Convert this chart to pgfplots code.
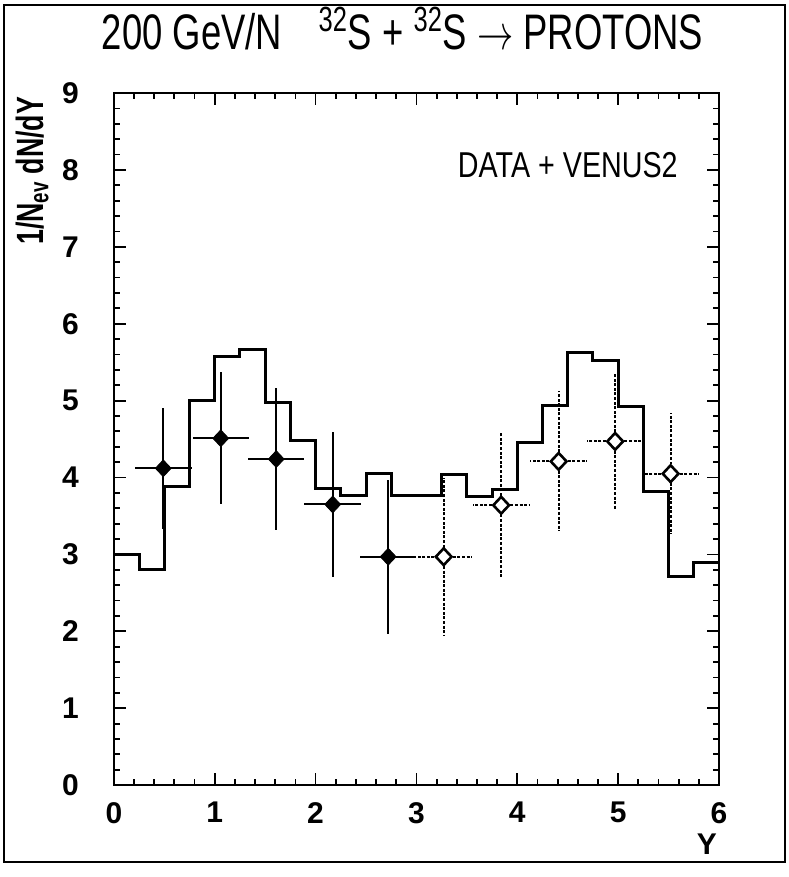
\documentclass[border=0pt]{standalone}
\usepackage{fontspec}
\setmainfont{Liberation Sans}
\usepackage{graphicx}
\usepackage{pgfplots}
\pgfplotsset{compat=1.18}

\pgfplotstableread{
x y
0.00 3.00
0.25 2.80
0.50 3.88
0.75 5.00
1.00 5.57
1.25 5.67
1.50 4.98
1.75 4.48
2.00 3.86
2.25 3.77
2.50 4.05
2.75 3.76
3.00 3.76
3.25 4.04
3.50 3.75
3.75 3.84
4.00 4.45
4.25 4.94
4.50 5.63
4.75 5.52
5.00 4.93
5.25 3.82
5.50 2.71
5.75 2.90
6.00 2.90
}\venus

\pgfplotstableread{
x y ex ey
0.49 4.12 0.28 0.79
1.06 4.51 0.28 0.86
1.61 4.24 0.28 0.92
2.17 3.65 0.28 0.94
2.72 2.97 0.28 1.00
}\filled

\pgfplotstableread{
x y ex ey
3.27 2.97 0.28 1.03
3.84 3.64 0.28 0.95
4.41 4.21 0.28 0.91
4.97 4.47 0.28 0.88
5.52 4.05 0.28 0.79
}\open

\begin{document}
\begin{tikzpicture}
\begin{axis}[
  name=ax,
  scale only axis,
  width=303pt, height=346.5pt,
  xmin=0, xmax=6, ymin=0, ymax=9,
  xtick={0,1,2,3,4,5,6}, ytick={0,1,2,3,4,5,6,7,8,9},
  minor tick num=4,
  tick align=inside,
  major tick length=6pt, minor tick length=3pt,
  axis line style={line width=1.2pt},
  every tick/.style={line width=0.9pt, black},
  /pgf/number format/assume math mode=true,
  ticklabel style={font=\fontsize{15}{15}\selectfont\bfseries},
  xticklabel style={yshift=-5pt},
  yticklabel style={xshift=-14pt},
  ylabel={\resizebox{74pt}{\height}{1/N\textsubscript{ev} dN/dY}},
  ylabel style={at={(axis description cs:-0.135,0.995)}, anchor=east, inner sep=0pt, font=\fontsize{19}{19}\selectfont\bfseries},
  xlabel={Y},
  xlabel style={at={(axis description cs:0.98,-0.085)}, anchor=center, font=\fontsize{15}{15}\selectfont\bfseries},
  title={\resizebox{301pt}{\height}{200 GeV/N\quad\textsuperscript{32}S + \textsuperscript{32}S $\rightarrow$ PROTONS}},
  title style={at={(axis description cs:0.477,1.0765)}, anchor=center, font=\fontsize{25}{25}\selectfont},
]
\addplot[const plot, line width=1.5pt, black, line join=miter] table[x=x,y=y] {\venus};

\addplot[only marks, black, mark=diamond*, mark size=4.2pt,
  mark options={xscale=1.25, fill=black},
  error bars/.cd, x dir=both, x explicit, y dir=both, y explicit,
  error mark=none, error bar style={line width=1pt, solid}]
  table[x=x, y=y, x error=ex, y error=ey] {\filled};

\addplot[only marks, black, mark=diamond*, mark size=4.2pt,
  mark options={xscale=1.25, fill=white, line width=1.3pt, solid},
  error bars/.cd, x dir=both, x explicit, y dir=both, y explicit,
  error mark=none, error bar style={line width=1pt, dash pattern=on 1.5pt off 0.8pt}]
  table[x=x, y=y, x error=ex, y error=ey] {\open};

\node[anchor=east, font=\fontsize{18}{18}\selectfont] at (axis cs:5.66,8.06)
  {\resizebox{110pt}{\height}{DATA + VENUS2}};
\end{axis}
\path ([shift={(-57pt,-46pt)}]ax.south west) rectangle ([shift={(35pt,46pt)}]ax.north east);
\draw[line width=1pt] ([shift={(-55pt,-38.5pt)}]ax.south west) rectangle ([shift={(33pt,44pt)}]ax.north east);
\end{tikzpicture}
\end{document}
